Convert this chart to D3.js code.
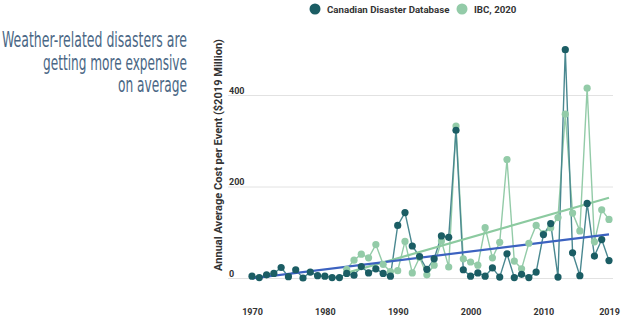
<!DOCTYPE html>
<html>
<head>
<meta charset="utf-8">
<script src="https://cdn.jsdelivr.net/npm/d3@7"></script>
<style>
  body { margin: 0; background: #fff; }
  svg { display: block; }
</style>
</head>
<body>
<svg id="chart" width="624" height="322"></svg>
<script>
// cost per event, $2019 million
var cddYears = d3.range(1970, 2020);
var cddValues = [4, 1, 7, 10, 23, 3, 18, 0, 13, 5,
  4, 1, 1, 10, 6, 25, 11, 20, 10, 4,
  115, 143, 70, 47, 19, 42, 92, 89, 323, 18,
  4, 11, 4, 22, 2, 53, 1, 8, 1, 13,
  95, 119, 2, 499, 55, 5, 163, 48, 84, 38];

var ibcYears = d3.range(1983, 2020);
var ibcValues = [19, 39, 52, 44, 73, 30, 14,
  16, 80, 11, 45, 7, 28, 81, 24, 332, 42,
  35, 28, 110, 44, 78, 259, 37, 20, 76, 115,
  97, 110, 132, 358, 142, 103, 415, 79, 149, 128];

var xTicks = [1970, 1980, 1990, 2000, 2010, 2019];
var yTicks = [0, 200, 400];
var seriesNames = ["Canadian Disaster Database", "IBC, 2020"];
var titleLines = ["Weather-related disasters are", "getting more expensive", "on average"];

var darkCol = "#1b5d64";
var lightCol = "#93cba8";
var blueCol = "#3c62c0";
var trendGreen = "#8ccaa0";

var svg = d3.select("#chart");

var x = d3.scaleLinear().domain([1970, 2019]).range([252, 609]);
var y = d3.scaleLinear().domain([0, 400]).range([278, 95]);

// title on the left
var titleW = [185, 144, 69];
svg.append("g")
  .selectAll("text")
  .data(titleLines)
  .enter()
  .append("text")
  .attr("x", 187)
  .attr("y", function (d, i) { return 47 + i * 22.7; })
  .attr("text-anchor", "end")
  .attr("textLength", function (d, i) { return titleW[i]; })
  .attr("lengthAdjust", "spacingAndGlyphs")
  .style("font-family", "'Liberation Sans Narrow', 'DejaVu Sans Condensed', Roboto, sans-serif")
  .style("font-stretch", "condensed")
  .style("font-size", "21px")
  .style("fill", "#4a6785")
  .text(function (d) { return d; });

// grid + y labels
var yAxis = svg.append("g")
  .attr("transform", "translate(613,0)")
  .call(d3.axisLeft(y).tickValues(yTicks).tickSize(385).tickFormat(d3.format("d")));
yAxis.select(".domain").remove();
yAxis.selectAll("line").attr("stroke", "#e2e2e2").attr("stroke-width", 1);
yAxis.selectAll("text")
  .attr("x", -384)
  .attr("dy", -2)
  .attr("text-anchor", "start")
  .style("font-family", "Roboto, sans-serif")
  .style("font-weight", "bold")
  .style("font-size", "9px")
  .style("fill", "#333");

// x labels
var xAxis = svg.append("g")
  .attr("transform", "translate(0,306)")
  .call(d3.axisBottom(x).tickValues(xTicks).tickSize(0).tickFormat(d3.format("d")));
xAxis.select(".domain").remove();
xAxis.selectAll("text")
  .style("font-family", "Roboto, sans-serif")
  .style("font-weight", "bold")
  .style("font-size", "9px")
  .style("fill", "#333");

// y axis title
svg.append("text")
  .attr("transform", "translate(222,155) rotate(-90)")
  .attr("text-anchor", "middle")
  .attr("textLength", 232)
  .attr("lengthAdjust", "spacingAndGlyphs")
  .style("font-family", "Roboto, sans-serif")
  .style("font-weight", "bold")
  .style("font-size", "10.5px")
  .style("fill", "#333")
  .text("Annual Average Cost per Event ($2019 Million)");

// legend
var legX = [315, 462];
var legCol = [darkCol, lightCol];
var leg = svg.append("g").selectAll("g")
  .data(seriesNames)
  .enter()
  .append("g");
leg.append("circle")
  .attr("cx", function (d, i) { return legX[i]; })
  .attr("cy", 9)
  .attr("r", 5.5)
  .style("fill", function (d, i) { return legCol[i]; });
leg.append("text")
  .attr("x", function (d, i) { return legX[i] + 12; })
  .attr("y", 12.5)
  .style("font-family", "Roboto, sans-serif")
  .style("font-weight", "bold")
  .style("font-size", "9.7px")
  .style("fill", "#333")
  .text(function (d) { return d; });

var cdd = cddYears.map(function (yr, i) { return [yr, cddValues[i]]; });
var ibc = ibcYears.map(function (yr, i) { return [yr, ibcValues[i]]; });

var line = d3.line()
  .x(function (d) { return x(d[0]); })
  .y(function (d) { return y(d[1]); });

// least squares trend
var trend = function (pts) {
  var mx = d3.mean(pts, function (d) { return d[0]; });
  var my = d3.mean(pts, function (d) { return d[1]; });
  var num = d3.sum(pts, function (d) { return (d[0] - mx) * (d[1] - my); });
  var den = d3.sum(pts, function (d) { return (d[0] - mx) * (d[0] - mx); });
  var b = num / den;
  var first = pts[0][0], last = pts[pts.length - 1][0];
  return [[first, my + b * (first - mx)], [last, my + b * (last - mx)]];
};

// series lines
svg.append("path")
  .datum(ibc)
  .attr("d", line)
  .attr("fill", "none")
  .attr("stroke", lightCol)
  .attr("stroke-width", 1.4);

svg.append("path")
  .datum(cdd)
  .attr("d", line)
  .attr("fill", "none")
  .attr("stroke", "#4a8890")
  .attr("stroke-width", 1.4);

// trend lines
svg.append("path")
  .datum(trend(ibc))
  .attr("d", line)
  .attr("fill", "none")
  .attr("stroke", trendGreen)
  .attr("stroke-width", 2.2);

svg.append("path")
  .datum(trend(cdd))
  .attr("d", line)
  .attr("fill", "none")
  .attr("stroke", blueCol)
  .attr("stroke-width", 2.2);

// dots
svg.append("g")
  .selectAll("circle")
  .data(ibc)
  .enter()
  .append("circle")
  .attr("cx", function (d) { return x(d[0]); })
  .attr("cy", function (d) { return y(d[1]); })
  .attr("r", 3.6)
  .style("fill", lightCol);

svg.append("g")
  .selectAll("circle")
  .data(cdd)
  .enter()
  .append("circle")
  .attr("cx", function (d) { return x(d[0]); })
  .attr("cy", function (d) { return y(d[1]); })
  .attr("r", 3.6)
  .style("fill", darkCol);
</script>
</body>
</html>
